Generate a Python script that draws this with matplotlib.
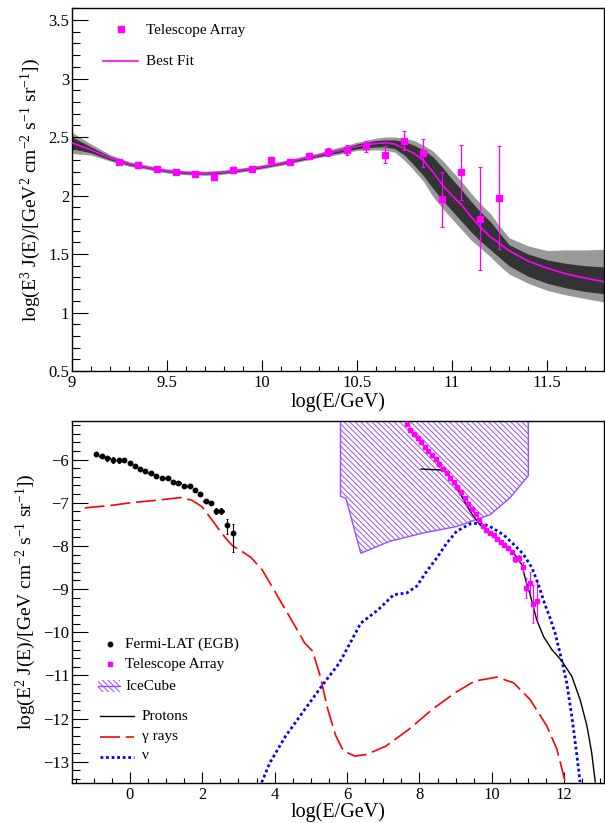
import numpy as np
import matplotlib
matplotlib.use("Agg")
import matplotlib.pyplot as plt
from matplotlib.ticker import MultipleLocator, FormatStrFormatter
from matplotlib.patches import Polygon, Rectangle

plt.rcParams['font.family'] = ['Liberation Serif', 'DejaVu Serif']
plt.rcParams['mathtext.fontset'] = 'custom'
plt.rcParams['mathtext.rm'] = 'Liberation Serif'
plt.rcParams['mathtext.it'] = 'Liberation Serif:italic'
plt.rcParams['mathtext.bf'] = 'Liberation Serif:bold'
plt.rcParams['hatch.linewidth'] = 0.7

# ---------------- top panel data ----------------
ta_x = [9.25, 9.35, 9.45, 9.55, 9.65, 9.75, 9.85, 9.95, 10.05, 10.15, 10.25,
        10.35, 10.45, 10.55, 10.65, 10.75, 10.85, 10.95, 11.05, 11.15, 11.25]
ta_y = [2.29, 2.26, 2.23, 2.20, 2.18, 2.16, 2.22, 2.23, 2.30, 2.29, 2.34,
        2.37, 2.39, 2.42, 2.35, 2.47, 2.36, 1.97, 2.20, 1.80, 1.98]
ta_err = [0.015, 0.015, 0.015, 0.015, 0.015, 0.02, 0.02, 0.02, 0.02, 0.025, 0.025,
          0.035, 0.045, 0.05, 0.075, 0.085, 0.12, 0.235, 0.235, 0.44, 0.44]

fit_x = [9.0, 9.1, 9.2, 9.3, 9.4, 9.5, 9.6, 9.7, 9.8, 9.9, 10.0, 10.1, 10.2, 10.3,
         10.4, 10.5, 10.6, 10.65, 10.7, 10.75, 10.8, 10.85, 10.9, 10.95, 11.0,
         11.05, 11.1, 11.15, 11.2, 11.25, 11.3, 11.4, 11.5, 11.6, 11.7, 11.8]
fit_y = [2.45, 2.39, 2.32, 2.27, 2.24, 2.21, 2.195, 2.19, 2.20, 2.22, 2.245, 2.275,
         2.31, 2.345, 2.38, 2.42, 2.445, 2.45, 2.44, 2.40, 2.36, 2.30, 2.20, 2.09,
         2.00, 1.92, 1.82, 1.73, 1.65, 1.59, 1.53, 1.44, 1.38, 1.33, 1.295, 1.263]
in_lo = [2.40, 2.365, 2.305, 2.26, 2.232, 2.202, 2.187, 2.182, 2.192, 2.212, 2.237,
         2.267, 2.30, 2.335, 2.365, 2.40, 2.415, 2.415, 2.40, 2.345, 2.26, 2.17,
         2.06, 1.96, 1.87, 1.78, 1.69, 1.61, 1.54, 1.47, 1.40, 1.31, 1.25, 1.21,
         1.18, 1.16]
in_hi = [2.50, 2.415, 2.335, 2.28, 2.248, 2.218, 2.203, 2.198, 2.208, 2.228, 2.253,
         2.283, 2.32, 2.355, 2.395, 2.44, 2.47, 2.475, 2.475, 2.46, 2.43, 2.39,
         2.33, 2.24, 2.14, 2.05, 1.95, 1.86, 1.78, 1.68, 1.58, 1.50, 1.45, 1.42,
         1.40, 1.39]
out_lo = [2.36, 2.345, 2.295, 2.25, 2.222, 2.192, 2.177, 2.172, 2.182, 2.202, 2.227,
          2.257, 2.29, 2.325, 2.35, 2.385, 2.39, 2.385, 2.37, 2.30, 2.215, 2.12,
          1.99, 1.89, 1.80, 1.71, 1.62, 1.55, 1.48, 1.40, 1.33, 1.25, 1.19, 1.15,
          1.12, 1.09]
out_hi = [2.54, 2.44, 2.35, 2.29, 2.258, 2.228, 2.213, 2.208, 2.218, 2.238, 2.263,
          2.293, 2.33, 2.365, 2.41, 2.455, 2.49, 2.50, 2.50, 2.49, 2.47, 2.43,
          2.38, 2.30, 2.21, 2.12, 2.02, 1.93, 1.85, 1.74, 1.64, 1.57, 1.53, 1.535,
          1.535, 1.54]

# ---------------- bottom panel data ----------------
fermi_x = [-0.94, -0.78, -0.62, -0.46, -0.31, -0.17, 0.0, 0.14, 0.28, 0.42, 0.57,
           0.73, 0.88, 1.04, 1.19, 1.34, 1.49, 1.65, 1.80, 1.94, 2.09, 2.24, 2.39,
           2.53, 2.68, 2.84]
fermi_y = [-5.88, -5.92, -5.97, -6.02, -6.02, -6.00, -6.08, -6.15, -6.22, -6.26,
           -6.32, -6.37, -6.42, -6.42, -6.51, -6.54, -6.61, -6.62, -6.70, -6.79,
           -6.95, -7.00, -7.19, -7.19, -7.52, -7.69]
fermi_elo = [0.03, 0.05, 0.06, 0.07, 0.06, 0.04, 0.02, 0.02, 0.02, 0.02, 0.02,
             0.02, 0.02, 0.02, 0.02, 0.02, 0.02, 0.02, 0.03, 0.03, 0.04, 0.05, 0.06,
             0.07, 0.20, 0.44]
fermi_ehi = [0.03, 0.05, 0.06, 0.07, 0.06, 0.04, 0.02, 0.02, 0.02, 0.02, 0.02,
             0.02, 0.02, 0.02, 0.02, 0.02, 0.02, 0.02, 0.03, 0.03, 0.04, 0.05, 0.06,
             0.07, 0.15, 0.20]

ta2_x = [7.65, 7.75, 7.85, 7.95, 8.05, 8.15, 8.25, 8.35, 8.45, 8.55, 8.65, 8.75,
         8.85, 8.95, 9.05, 9.15, 9.25, 9.35, 9.45, 9.55, 9.65, 9.75, 9.85, 9.95,
         10.05, 10.15, 10.25, 10.35, 10.45, 10.55, 10.65, 10.75, 10.85, 10.95,
         11.05, 11.15, 11.25]
ta2_y = [-5.18, -5.32, -5.41, -5.51, -5.60, -5.70, -5.80, -5.89, -5.99, -6.10,
         -6.22, -6.32, -6.42, -6.53, -6.64, -6.76, -6.90, -7.02, -7.14, -7.27,
         -7.41, -7.53, -7.62, -7.70, -7.75, -7.84, -7.90, -7.97, -8.06, -8.14,
         -8.30, -8.29, -8.49, -8.98, -8.85, -9.35, -9.27]
ta2_err = [0.01, 0.01, 0.01, 0.01, 0.01, 0.01, 0.01, 0.01, 0.01, 0.01, 0.01, 0.01,
           0.01, 0.01, 0.01, 0.01, 0.015, 0.015, 0.015, 0.015, 0.015, 0.02, 0.02,
           0.02, 0.02, 0.025, 0.025, 0.035, 0.045, 0.05, 0.075, 0.085, 0.12, 0.235,
           0.235, 0.44, 0.44]

ice_x = [5.82, 5.82, 5.97, 6.38, 7.19, 8.11, 9.03, 9.95, 10.5, 11.01, 11.01]
ice_y = [-5.0, -6.85, -6.90, -8.17, -7.89, -7.70, -7.55, -7.28, -6.89, -6.37, -5.0]

p_x = [8.05, 8.57, 8.75, 8.94, 9.12, 9.40, 9.67, 9.95, 10.32, 10.6, 10.83, 10.92,
       11.06, 11.24, 11.43, 11.66, 11.94, 12.21, 12.44, 12.63, 12.76, 12.86]
p_y = [-6.22, -6.24, -6.28, -6.51, -6.78, -7.20, -7.51, -7.70, -7.93, -8.16, -8.43,
       -8.74, -9.13, -9.71, -10.10, -10.40, -10.67, -11.02, -11.56, -12.17, -12.79,
       -13.47]

g_x = [-1.25, -0.5, 0.03, 0.89, 1.39, 1.71, 1.99, 2.27, 2.54, 2.73, 2.84, 3.1, 3.35,
       3.66, 3.98, 4.30, 4.62, 4.83, 5.05, 5.26, 5.47, 5.69, 5.90, 6.22, 6.54, 7.07,
       7.71, 8.35, 8.99, 9.53, 10.14, 10.6, 11.06, 11.52, 11.8, 12.03]
g_y = [-7.12, -7.06, -7.0, -6.93, -6.88, -6.94, -7.09, -7.40, -7.71, -7.90, -8.0,
       -8.13, -8.27, -8.56, -9.02, -9.48, -9.94, -10.25, -10.44, -11.02, -11.79,
       -12.4, -12.75, -12.87, -12.83, -12.64, -12.25, -11.79, -11.4, -11.13, -11.04,
       -11.17, -11.56, -12.17, -12.71, -13.47]

nu_x = [3.64, 3.87, 4.30, 4.83, 5.37, 5.79, 6.38, 6.86, 7.29, 7.65, 7.93, 8.2, 8.48,
        8.76, 9.03, 9.40, 9.68, 9.95, 10.32, 10.6, 10.88, 11.11, 11.29, 11.47, 11.61,
        11.75, 11.93, 12.07, 12.21, 12.33, 12.44]
nu_y = [-13.48, -13.02, -12.41, -11.79, -11.17, -10.71, -9.79, -9.48, -9.13, -9.09,
        -8.93, -8.59, -8.28, -7.93, -7.66, -7.49, -7.47, -7.55, -7.74, -7.96, -8.20,
        -8.51, -8.90, -9.36, -9.67, -10.02, -10.64, -11.17, -11.94, -12.71, -13.47]

MAG = '#ff00ff'
PURP = '#9a4dff'
HATCH = '\\' * 6

fig = plt.figure(figsize=(6.05, 8.23), dpi=100)
ax1 = fig.add_axes([0.1190, 0.5492, 0.8793, 0.4407])
ax2 = fig.add_axes([0.1190, 0.0482, 0.8793, 0.4406])


def style(ax):
    for s in ax.spines.values():
        s.set_linewidth(1.0)
    ax.tick_params(which='both', direction='in', top=False, right=False,
                   labelsize=12, width=0.8)
    ax.tick_params(axis='y', which='major', length=11.5, pad=2)
    ax.tick_params(axis='y', which='minor', length=5.8)
    ax.tick_params(axis='x', which='major', length=7.7, pad=3)
    ax.tick_params(axis='x', which='minor', length=3.6)


# ---------- top ----------
ax1.fill_between(fit_x, out_lo, out_hi, color='#999999', lw=0, zorder=1)
ax1.fill_between(fit_x, in_lo, in_hi, color='#333333', lw=0, zorder=2)
ax1.plot(fit_x, fit_y, color=MAG, lw=1.2, zorder=3)
ax1.errorbar(ta_x, ta_y, yerr=ta_err, fmt='s', ms=3.8, color=MAG, ecolor=MAG,
             elinewidth=0.9, capsize=1.2, capthick=0.8, zorder=4)
ax1.set_xlim(9, 11.8)
ax1.set_ylim(0.5, 3.6)
ax1.xaxis.set_major_locator(MultipleLocator(0.5))
ax1.xaxis.set_minor_locator(MultipleLocator(0.1))
ax1.yaxis.set_major_locator(MultipleLocator(0.5))
ax1.yaxis.set_minor_locator(MultipleLocator(0.1))
ax1.xaxis.set_major_formatter(FormatStrFormatter('%g'))
ax1.yaxis.set_major_formatter(FormatStrFormatter('%g'))
style(ax1)
ax1.set_xlabel('log(E/GeV)', fontsize=14.5, labelpad=0.5)
ax1.set_ylabel(r'log(E$^{\mathrm{3}}$ J(E)/[GeV$^{\mathrm{2}}$ cm$^{\mathrm{-2}}$ s$^{\mathrm{-1}}$ sr$^{\mathrm{-1}}$])',
               fontsize=14, labelpad=4)

# top legend
ax1.plot([0.0915], [0.943], 's', ms=3.8, color=MAG, transform=ax1.transAxes)
ax1.text(0.139, 0.940, 'Telescope Array', transform=ax1.transAxes, fontsize=11,
         va='center', ha='left')
ax1.plot([0.059, 0.1246], [0.855, 0.855], color=MAG, lw=1.2, transform=ax1.transAxes)
ax1.text(0.139, 0.852, 'Best Fit', transform=ax1.transAxes, fontsize=11,
         va='center', ha='left')

# ---------- bottom ----------
ice = Polygon(np.column_stack([ice_x, ice_y]), closed=True, facecolor='none',
              edgecolor=PURP, hatch=HATCH, lw=1.0, zorder=1)
ax2.add_patch(ice)
ax2.plot(g_x, g_y, color='#ff0000', lw=1.2, dashes=(12, 3.5), zorder=2)
ax2.plot(nu_x, nu_y, color='#0000ff', lw=2.0, dashes=(1.0, 1.0), zorder=2)
ax2.plot(p_x, p_y, color='black', lw=1.0, zorder=3)
ax2.errorbar(fermi_x, fermi_y, yerr=[fermi_elo, fermi_ehi], xerr=0.06, fmt='o',
             ms=3.2, color='black', ecolor='black', elinewidth=0.8, capsize=1.0,
             capthick=0.7, zorder=4)
ax2.errorbar(ta2_x, ta2_y, yerr=ta2_err, fmt='s', ms=3.0, color=MAG, ecolor=MAG,
             elinewidth=0.8, capsize=1.0, capthick=0.7, zorder=5)
ax2.set_xlim(-1.6, 13.1)
ax2.set_ylim(-13.5, -5.1)
ax2.xaxis.set_major_locator(MultipleLocator(2))
ax2.xaxis.set_minor_locator(MultipleLocator(0.5))
ax2.yaxis.set_major_locator(MultipleLocator(1))
ax2.yaxis.set_minor_locator(MultipleLocator(0.2))
ax2.xaxis.set_major_formatter(FormatStrFormatter('%g'))
style(ax2)
ax2.set_xlabel('log(E/GeV)', fontsize=14.5, labelpad=-1)
ax2.set_ylabel(r'log(E$^{\mathrm{2}}$ J(E)/[GeV cm$^{\mathrm{-2}}$ s$^{\mathrm{-1}}$ sr$^{\mathrm{-1}}$])',
               fontsize=14, labelpad=4)

# bottom legend
T = ax2.transAxes
ax2.plot([0.0709], [0.384], 'o', ms=3.2, color='black', transform=T)
ax2.text(0.100, 0.384, 'Fermi-LAT (EGB)', transform=T, fontsize=11, va='center')
ax2.plot([0.0709], [0.329], 's', ms=3.0, color=MAG, transform=T)
ax2.text(0.100, 0.327, 'Telescope Array', transform=T, fontsize=11, va='center')
ax2.add_patch(Rectangle((0.0483, 0.2526), 0.0425, 0.0324, transform=T,
                        facecolor='none', edgecolor=PURP, hatch=HATCH, lw=0))
ax2.plot([0.0483, 0.0908], [0.2688, 0.2688], color=PURP, lw=1.0, transform=T)
ax2.text(0.100, 0.268, 'IceCube', transform=T, fontsize=11, va='center')
ax2.plot([0.052, 0.117], [0.1856, 0.1856], color='black', lw=1.0, transform=T)
ax2.text(0.1316, 0.1856, 'Protons', transform=T, fontsize=11, va='center')
ax2.plot([0.052, 0.117], [0.1285, 0.1285], color='#ff0000', lw=1.2,
         dashes=(12, 3.5), transform=T)
ax2.text(0.1316, 0.1285, 'γ rays', transform=T, fontsize=11, va='center')
ax2.plot([0.052, 0.117], [0.0717, 0.0717], color='#0000ff', lw=2.0,
         dashes=(1.0, 1.0), transform=T)
ax2.text(0.1316, 0.0760, 'ν', transform=T, fontsize=11, va='center')

fig.savefig('out.png', dpi=100)
